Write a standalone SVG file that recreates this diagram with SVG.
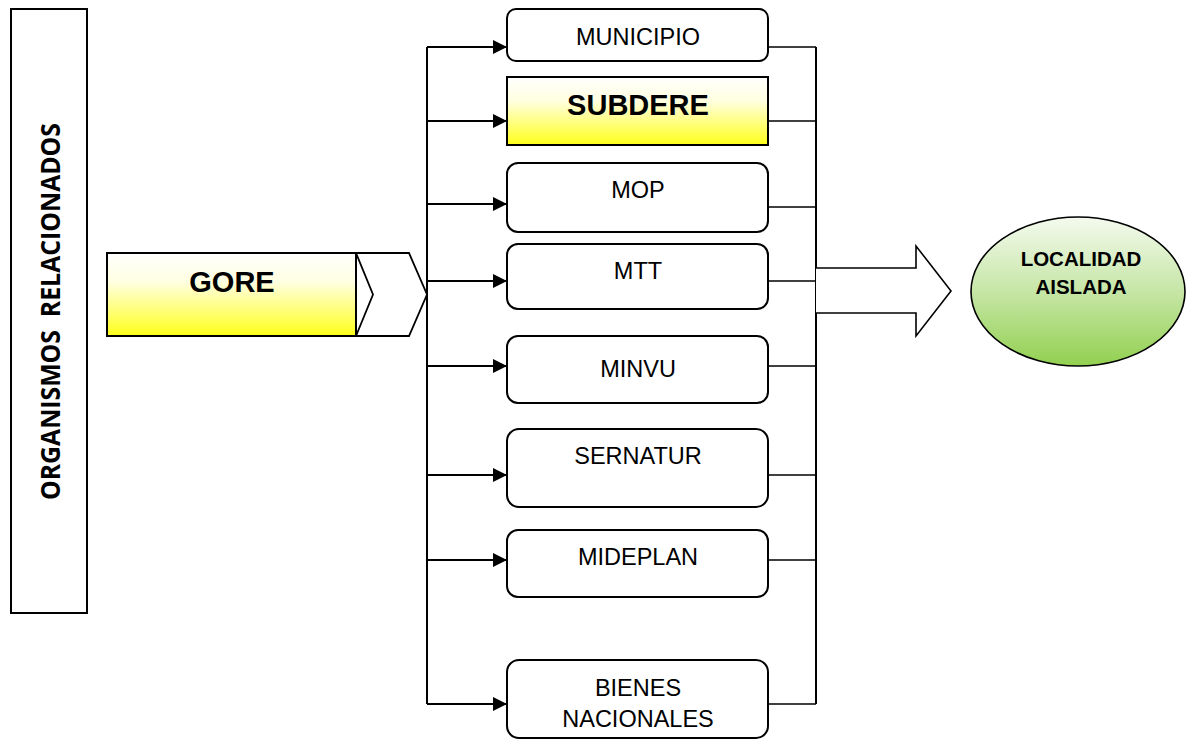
<svg xmlns="http://www.w3.org/2000/svg" width="1186" height="740" viewBox="0 0 1186 740">
  <defs>
    <linearGradient id="yellow" x1="0" y1="0" x2="0" y2="1">
      <stop offset="0" stop-color="#ffffff"/>
      <stop offset="0.35" stop-color="#ffffe0"/>
      <stop offset="1" stop-color="#ffff1a"/>
    </linearGradient>
    <linearGradient id="green" x1="0" y1="0" x2="0" y2="1">
      <stop offset="0" stop-color="#f4faee"/>
      <stop offset="0.5" stop-color="#c6e6a6"/>
      <stop offset="1" stop-color="#92d050"/>
    </linearGradient>
    <marker id="arr" markerUnits="userSpaceOnUse" markerWidth="14" markerHeight="14" refX="14" refY="7" orient="auto">
      <path d="M0,0 L14,7 L0,14 z" fill="#000"/>
    </marker>
    <style>
      .box { fill: #ffffff; stroke: #000; stroke-width: 2; }
      .lbl { font-family: "Liberation Sans", Arial, sans-serif; font-size: 23.5px; fill: #000; text-anchor: middle; }
      .bold { font-family: "Liberation Sans", Arial, sans-serif; font-weight: bold; fill: #000; text-anchor: middle; }
      .in { fill: none; stroke: #000; stroke-width: 2; }
      .out { fill: none; stroke: #000; stroke-width: 1.6; }
      .vert { font-family: "Open Sans", "Noto Sans", sans-serif; font-weight: bold; font-size: 27px; white-space: pre; }
    </style>
  </defs>
  <rect width="1186" height="740" fill="#ffffff"/>

  <g id="organismos">
    <rect x="11" y="9" width="76" height="604" class="box"/>
    <text transform="translate(60,311.5) rotate(-90)" text-anchor="middle" class="vert" xml:space="preserve" textLength="377" lengthAdjust="spacingAndGlyphs">ORGANISMOS  RELACIONADOS</text>
  </g>

  <g id="gore">
    <rect x="107" y="253" width="249" height="83" fill="url(#yellow)" stroke="#000" stroke-width="2"/>
    <text x="232" y="292" class="bold" font-size="29">GORE</text>
    <polygon points="356,253 409,253 427,294.5 409,336 356,336 373,294.5" fill="#ffffff" stroke="#000" stroke-width="1.8" stroke-linejoin="miter"/>
  </g>

  <g id="connectors">
    <line x1="427" y1="47" x2="427" y2="704" class="in"/>
    <line x1="427" y1="47" x2="507" y2="47" class="in" marker-end="url(#arr)"/>
    <line x1="427" y1="121" x2="507" y2="121" class="in" marker-end="url(#arr)"/>
    <line x1="427" y1="204" x2="507" y2="204" class="in" marker-end="url(#arr)"/>
    <line x1="427" y1="281" x2="507" y2="281" class="in" marker-end="url(#arr)"/>
    <line x1="427" y1="366" x2="507" y2="366" class="in" marker-end="url(#arr)"/>
    <line x1="427" y1="475" x2="507" y2="475" class="in" marker-end="url(#arr)"/>
    <line x1="427" y1="560" x2="507" y2="560" class="in" marker-end="url(#arr)"/>
    <line x1="427" y1="704" x2="507" y2="704" class="in" marker-end="url(#arr)"/>
    <line x1="816" y1="47" x2="816" y2="704" class="in"/>
    <line x1="768" y1="47" x2="816" y2="47" class="out"/>
    <line x1="768" y1="121" x2="816" y2="121" class="out"/>
    <line x1="768" y1="207" x2="816" y2="207" class="out"/>
    <line x1="768" y1="281" x2="816" y2="281" class="out"/>
    <line x1="768" y1="366" x2="816" y2="366" class="out"/>
    <line x1="768" y1="475" x2="816" y2="475" class="out"/>
    <line x1="768" y1="560" x2="816" y2="560" class="out"/>
    <line x1="768" y1="704" x2="816" y2="704" class="out"/>
    <path d="M816,268 L916,268 L916,246 L951,291 L916,336 L916,313 L816,313" fill="#ffffff" stroke="#000" stroke-width="1.6" stroke-linejoin="miter"/>
  </g>

  <g id="municipio">
    <rect x="507" y="9" width="261" height="52" rx="9" class="box"/>
    <text x="638" y="45" class="lbl">MUNICIPIO</text>
  </g>
  <g id="subdere">
    <rect x="507" y="77" width="261" height="68" fill="url(#yellow)" stroke="#000" stroke-width="2"/>
    <text x="638" y="115" class="bold" font-size="29">SUBDERE</text>
  </g>
  <g id="mop">
    <rect x="507" y="163" width="261" height="69" rx="11" class="box"/>
    <text x="638" y="198" class="lbl">MOP</text>
  </g>
  <g id="mtt">
    <rect x="507" y="244" width="261" height="65" rx="11" class="box"/>
    <text x="638" y="279" class="lbl">MTT</text>
  </g>
  <g id="minvu">
    <rect x="507" y="336" width="261" height="67" rx="11" class="box"/>
    <text x="638" y="377" class="lbl" font-size="26">MINVU</text>
  </g>
  <g id="sernatur">
    <rect x="507" y="429" width="261" height="78" rx="12" class="box"/>
    <text x="638" y="464" class="lbl">SERNATUR</text>
  </g>
  <g id="mideplan">
    <rect x="507" y="530" width="261" height="67" rx="11" class="box"/>
    <text x="638" y="565" class="lbl">MIDEPLAN</text>
  </g>
  <g id="bienes">
    <rect x="507" y="660" width="261" height="78" rx="12" class="box"/>
    <text x="638" y="696" class="lbl">BIENES</text>
    <text x="638" y="727" class="lbl">NACIONALES</text>
  </g>

  <g id="localidad">
    <ellipse cx="1078" cy="291.5" rx="107" ry="74.5" fill="url(#green)" stroke="#000" stroke-width="1.6"/>
    <text x="1081" y="266" class="bold" font-size="20.5">LOCALIDAD</text>
    <text x="1081" y="294" class="bold" font-size="20.5">AISLADA</text>
  </g>
</svg>
